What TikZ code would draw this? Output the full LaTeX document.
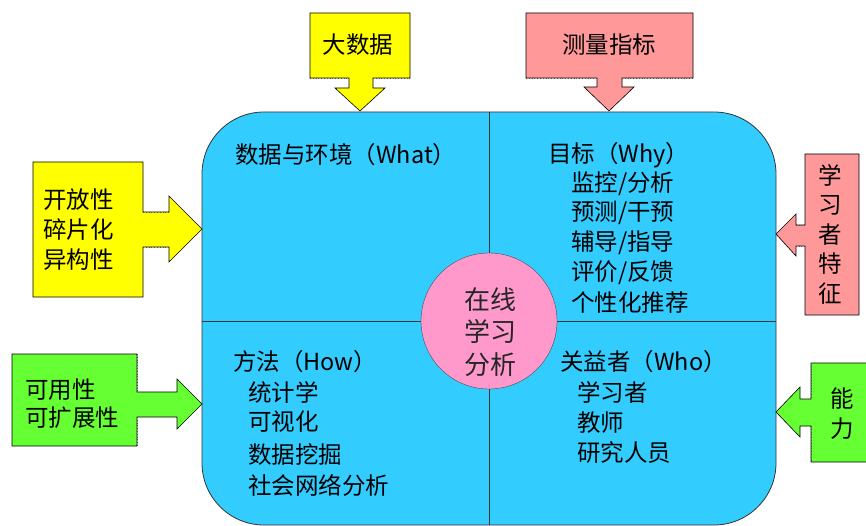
\documentclass[tikz,border=0pt]{standalone}
\usepackage{fontspec}
\setmainfont{Noto Sans CJK SC}
\definecolor{quadblue}{HTML}{33CCFF}
\definecolor{calloutyellow}{HTML}{FFFF00}
\definecolor{calloutpink}{HTML}{FF9999}
\definecolor{calloutgreen}{HTML}{66FF33}
\definecolor{centerpink}{HTML}{FF99CC}
\tikzset{
  quadtext/.style={anchor=west, inner sep=0pt, font=\fontsize{23.5}{26}\selectfont},
  callouttext/.style={inner sep=0pt, font=\fontsize{23.5}{30}\selectfont, align=left},
  calloutshape/.style={draw=black, line width=0.6pt, line join=miter},
  boxedge/.style={draw=black!70, line width=0.8pt, dotted},
}
\begin{document}
\begin{tikzpicture}[x=1pt,y=-1pt]
\useasboundingbox (0,0) rectangle (866,526);
% main rounded rectangle
\draw[fill=quadblue, draw=black!80, line width=0.8pt, rounded corners=62pt] (202,112) rectangle (776,525);
\coordinate (topmid) at (489,112);
\coordinate (botmid) at (489,525);
\coordinate (leftmid) at (202,321);
\coordinate (rightmid) at (776,321);
\draw[black!80, line width=0.8pt] (topmid) -- (botmid);
\draw[black!80, line width=0.8pt] (leftmid) -- (rightmid);
\node[circle, draw=black!70, fill=centerpink, minimum size=136pt, inner sep=0pt] (center) at (489,321) {};
\node[inner sep=0pt, align=center, font=\fontsize{26}{32.5}\selectfont, text=black!85] (centertext) at (490,332) {在线\\学习\\分析};

% quadrant texts
\node[quadtext] (what) at (235,155) {数据与环境（What）};
\node[quadtext] (why) at (548,155) {目标（Why）};
\node[quadtext] (why1) at (571,184) {监控/分析};
\node[quadtext] (why2) at (571,213) {预测/干预};
\node[quadtext] (why3) at (571,243) {辅导/指导};
\node[quadtext] (why4) at (571,273) {评价/反馈};
\node[quadtext] (why5) at (571,303) {个性化推荐};
\node[quadtext] (how) at (233,362) {方法（How）};
\node[quadtext] (how1) at (248,392) {统计学};
\node[quadtext] (how2) at (248,422) {可视化};
\node[quadtext] (how3) at (248,455) {数据挖掘};
\node[quadtext] (how4) at (248,485) {社会网络分析};
\node[quadtext] (who) at (560,362) {关益者（Who）};
\node[quadtext] (who1) at (577,392) {学习者};
\node[quadtext] (who2) at (577,423) {教师};
\node[quadtext] (who3) at (577,453) {研究人员};

% callout: 大数据
\draw[calloutshape, fill=calloutyellow] (310,13) -- (410,13) -- (410,78) -- (373,78) -- (373,88) -- (385,88) -- (360,111) -- (335,88) -- (349,88) -- (349,78) -- (310,78) -- cycle;
\draw[boxedge] (310,78) -- (349,78) (373,78) -- (410,78);
\node[callouttext] (bigdata) at (358,45) {大数据};

% callout: 测量指标
\draw[calloutshape, fill=calloutpink] (526,13) -- (693,13) -- (693,78) -- (622,78) -- (622,87) -- (634,87) -- (609,111) -- (584,87) -- (597,87) -- (597,78) -- (526,78) -- cycle;
\draw[boxedge] (526,78) -- (597,78) (622,78) -- (693,78);
\node[callouttext] (metrics) at (609,45) {测量指标};

% callout: 开放性 碎片化 异构性
\draw[calloutshape, fill=calloutyellow] (33,162) -- (143,162) -- (143,212) -- (169,212) -- (169,196) -- (202,229) -- (169,262) -- (169,247) -- (143,247) -- (143,297) -- (33,297) -- cycle;
\draw[boxedge] (143,212) -- (169,212) (143,247) -- (169,247);
\node[callouttext, anchor=west] (openness) at (43,230) {开放性\\碎片化\\异构性};

% callout: 学习者特征
\draw[calloutshape, fill=calloutpink] (859,154) -- (859,315) -- (805,315) -- (805,246) -- (796,246) -- (796,256) -- (776,234) -- (796,214) -- (796,225) -- (805,225) -- (805,154) -- cycle;
\draw[boxedge] (805,225) -- (796,225) (805,246) -- (796,246);
\node[inner sep=0pt, align=center, font=\fontsize{23.5}{29.5}\selectfont] (learnerfeat) at (830,234) {学\\习\\者\\特\\征};

% callout: 可用性 可扩展性
\draw[calloutshape, fill=calloutgreen] (12,354) -- (137,354) -- (137,392) -- (177,392) -- (177,379) -- (202,404) -- (177,429) -- (177,417) -- (137,417) -- (137,446) -- (12,446) -- cycle;
\draw[boxedge] (137,354) -- (137,392) (137,417) -- (137,446);
\node[callouttext, anchor=west, font=\fontsize{23.5}{28}\selectfont] (usability) at (25,404) {可用性\\可扩展性};

% callout: 能力
\draw[calloutshape, fill=calloutgreen] (870,363) -- (811,363) -- (811,399) -- (800,399) -- (800,387) -- (776,412) -- (800,437) -- (800,426) -- (811,426) -- (811,462) -- (870,462);
\draw[boxedge] (811,363) -- (811,399) (811,426) -- (811,462);
\node[inner sep=0pt, align=center, font=\fontsize{23.5}{30}\selectfont] (ability) at (842,414) {能\\力};
\end{tikzpicture}
\end{document}
